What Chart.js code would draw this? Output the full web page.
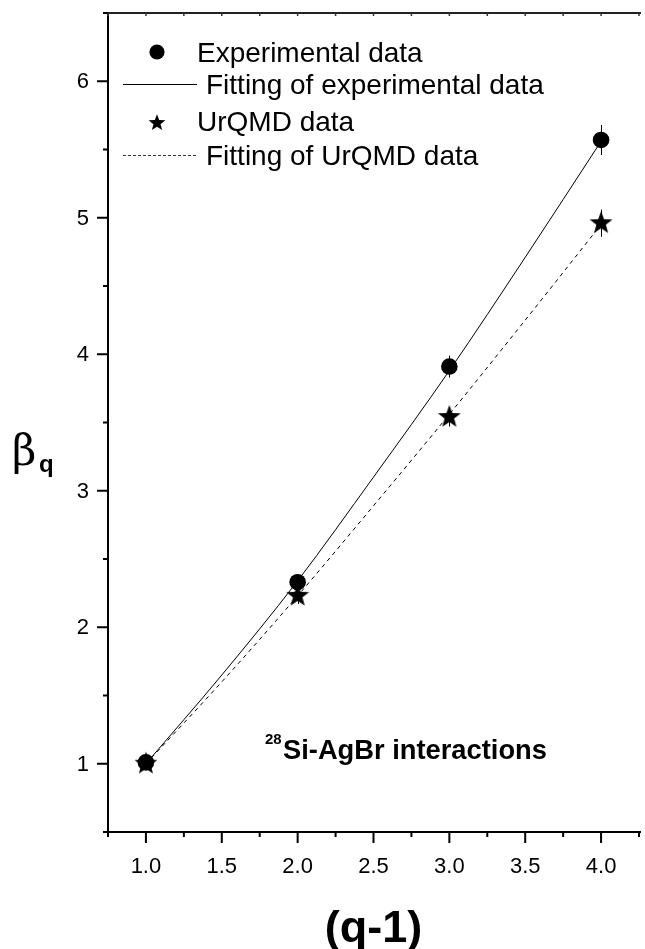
<!DOCTYPE html>
<html>
<head>
<meta charset="utf-8">
<script src="https://cdn.jsdelivr.net/npm/chart.js@4.4.1/dist/chart.umd.min.js"></script>
<style>
  html, body { margin: 0; padding: 0; background: #fff; overflow: hidden; }
  #wrap { width: 652px; height: 949px; }
</style>
</head>
<body>
<div id="wrap"><canvas id="c" width="652" height="949"></canvas></div>
<script>
// q-1 values and generalized dimension slopes beta_q
const qMinusOne = [1, 2, 3, 4];
const expBeta = [1.01, 2.33, 3.91, 5.57];
const expErr = [0.04, 0.05, 0.08, 0.11];
const urqmdBeta = [1.00, 2.23, 3.54, 4.96];
const urqmdErr = [0.04, 0.06, 0.07, 0.10];

// fitted curves, sampled along (q-1)
const fitQ = [1, 1.5, 2, 2.5, 3, 3.5, 4];
const expFitBeta = [1.00, 1.65, 2.34, 3.10, 3.88, 4.71, 5.56];
const urqmdFitBeta = [1.00, 1.60, 2.23, 2.89, 3.56, 4.25, 4.95];

// axis ticks
const xTickValues = [1.0, 1.5, 2.0, 2.5, 3.0, 3.5, 4.0];
const xTickLabels = ['1.0', '1.5', '2.0', '2.5', '3.0', '3.5', '4.0'];
const xMinorValues = [0.75, 1.25, 1.75, 2.25, 2.75, 3.25, 3.75, 4.25];
const yTickValues = [1, 2, 3, 4, 5, 6];
const yTickLabels = ['1', '2', '3', '4', '5', '6'];
const yMinorValues = [0.5, 1.5, 2.5, 3.5, 4.5, 5.5, 6.5];

const seriesLabels = ['Experimental data', 'Fitting of experimental data', 'UrQMD data', 'Fitting of UrQMD data'];
const noteText = 'Si-AgBr interactions';
const noteSup = '28';
const xTitle = '(q-1)';

const SANS = '"Liberation Sans", Arial, Helvetica, sans-serif';

function makeStar(R, r) {
  const c = document.createElement('canvas');
  const s = Math.ceil(2 * R) + 2;
  c.width = s; c.height = s;
  const g = c.getContext('2d');
  g.translate(s / 2, s / 2);
  g.beginPath();
  for (let i = 0; i < 10; i++) {
    const rad = i % 2 ? r : R;
    const a = -Math.PI / 2 + i * Math.PI / 5;
    g.lineTo(rad * Math.cos(a), rad * Math.sin(a));
  }
  g.closePath();
  g.fillStyle = '#000';
  g.fill();
  return c;
}
const bigStar = makeStar(12, 5);
const smallStar = makeStar(8.8, 3.7);

const pts = (xs, ys) => xs.map((x, i) => ({ x: x, y: ys[i] }));

const errorBars = {
  id: 'errorBars',
  beforeDatasetsDraw(chart) {
    const ctx = chart.ctx, xs = chart.scales.x, ys = chart.scales.y;
    ctx.save();
    ctx.strokeStyle = '#000';
    ctx.lineWidth = 1;
    [[expBeta, expErr], [urqmdBeta, urqmdErr]].forEach(([vals, errs]) => {
      qMinusOne.forEach((q, i) => {
        const px = Math.round(xs.getPixelForValue(q)) + 0.5;
        ctx.beginPath();
        ctx.moveTo(px, ys.getPixelForValue(vals[i] + errs[i]));
        ctx.lineTo(px, ys.getPixelForValue(vals[i] - errs[i]));
        ctx.stroke();
      });
    });
    ctx.restore();
  }
};

const frame = {
  id: 'frame',
  afterDraw(chart) {
    const ctx = chart.ctx, xs = chart.scales.x, ys = chart.scales.y;
    const a = chart.chartArea;
    ctx.save();
    ctx.strokeStyle = '#000';
    ctx.lineWidth = 2;
    ctx.lineCap = 'butt';
    // left axis, bottom axis, top border
    ctx.beginPath();
    ctx.moveTo(a.left, a.top - 1); ctx.lineTo(a.left, a.bottom + 1);
    ctx.moveTo(a.left - 1, a.bottom); ctx.lineTo(a.right + 2, a.bottom);
    ctx.stroke();
    ctx.strokeStyle = '#222';
    ctx.beginPath();
    ctx.moveTo(a.left - 1, a.top); ctx.lineTo(a.right + 2, a.top);
    ctx.stroke();

    // y ticks
    ctx.strokeStyle = '#000';
    ctx.beginPath();
    yTickValues.forEach(v => { const y = ys.getPixelForValue(v); ctx.moveTo(a.left, y); ctx.lineTo(a.left - 11, y); });
    yMinorValues.forEach(v => { const y = ys.getPixelForValue(v); ctx.moveTo(a.left, y); ctx.lineTo(a.left - 5, y); });
    // x ticks
    xTickValues.forEach(v => { const x = xs.getPixelForValue(v); ctx.moveTo(x, a.bottom); ctx.lineTo(x, a.bottom + 11); });
    xMinorValues.forEach(v => { const x = xs.getPixelForValue(v); ctx.moveTo(x, a.bottom); ctx.lineTo(x, a.bottom + 5); });
    ctx.stroke();
    // small inward ticks on the top border
    ctx.lineWidth = 1.5;
    ctx.strokeStyle = '#333';
    ctx.beginPath();
    xTickValues.concat(xMinorValues).forEach(v => { const x = xs.getPixelForValue(v); ctx.moveTo(x, a.top); ctx.lineTo(x, a.top + 3); });
    ctx.stroke();

    // tick labels
    ctx.fillStyle = '#000';
    ctx.font = '22px ' + SANS;
    ctx.textAlign = 'right';
    ctx.textBaseline = 'middle';
    yTickValues.forEach((v, i) => ctx.fillText(yTickLabels[i], a.left - 19, ys.getPixelForValue(v) + 1));
    ctx.textAlign = 'center';
    xTickValues.forEach((v, i) => ctx.fillText(xTickLabels[i], xs.getPixelForValue(v), a.bottom + 35));

    // axis titles
    ctx.font = 'bold 45px ' + SANS;
    ctx.textBaseline = 'middle';
    ctx.fillText(xTitle, (a.left + a.right) / 2, a.bottom + 98);
    ctx.textAlign = 'left';
    ctx.textBaseline = 'alphabetic';
    ctx.font = '42px "DejaVu Serif", "Liberation Serif", serif';
    ctx.fillText('\u03B2', 12, 465);
    ctx.font = 'bold 24px ' + SANS;
    ctx.fillText('q', 39, 472);

    // in-plot note
    ctx.font = 'bold 15px ' + SANS;
    ctx.fillText(noteSup, 265, 744);
    ctx.font = 'bold 27.3px ' + SANS;
    ctx.fillText(noteText, 283, 759);

    // legend
    ctx.font = '28px ' + SANS;
    ctx.fillStyle = '#000';
    ctx.beginPath(); ctx.arc(157, 52, 7.6, 0, Math.PI * 2); ctx.fill();
    ctx.fillText(seriesLabels[0], 197, 62);
    ctx.lineWidth = 1;
    ctx.strokeStyle = '#000';
    ctx.beginPath(); ctx.moveTo(123, 84.5); ctx.lineTo(197, 84.5); ctx.stroke();
    ctx.fillText(seriesLabels[1], 206, 94);
    ctx.drawImage(smallStar, 157 - smallStar.width / 2, 123 - smallStar.height / 2);
    ctx.fillText(seriesLabels[2], 197, 131);
    ctx.setLineDash([3, 2]);
    ctx.strokeStyle = '#333';
    ctx.beginPath(); ctx.moveTo(123, 155.5); ctx.lineTo(197, 155.5); ctx.stroke();
    ctx.setLineDash([]);
    ctx.fillText(seriesLabels[3], 206, 165);
    ctx.restore();
  }
};

new Chart(document.getElementById('c'), {
  type: 'scatter',
  data: {
    datasets: [
      {
        label: seriesLabels[0],
        data: pts(qMinusOne, expBeta),
        pointStyle: 'circle',
        pointRadius: 8.3,
        backgroundColor: '#000',
        borderColor: '#000',
        borderWidth: 0,
        showLine: false,
        order: 0
      },
      {
        label: seriesLabels[2],
        data: pts(qMinusOne, urqmdBeta),
        pointStyle: bigStar,
        pointRadius: 12,
        backgroundColor: '#000',
        borderColor: '#000',
        showLine: false,
        order: 1
      },
      {
        label: seriesLabels[1],
        data: pts(fitQ, expFitBeta),
        showLine: true,
        borderColor: '#000',
        borderWidth: 1,
        pointRadius: 0,
        cubicInterpolationMode: 'monotone',
        order: 2
      },
      {
        label: seriesLabels[3],
        data: pts(fitQ, urqmdFitBeta),
        showLine: true,
        borderColor: '#000',
        borderWidth: 1,
        borderDash: [4, 4],
        pointRadius: 0,
        cubicInterpolationMode: 'monotone',
        order: 3
      }
    ]
  },
  options: {
    responsive: false,
    devicePixelRatio: 1,
    animation: false,
    layout: { padding: { left: 108, top: 10, right: 2, bottom: 117 } },
    plugins: { legend: { display: false }, tooltip: { enabled: false } },
    scales: {
      x: { type: 'linear', min: 0.75, max: 4.25, display: false },
      y: { type: 'linear', min: 0.5, max: 6.5, display: false }
    }
  },
  plugins: [errorBars, frame]
});
</script>
</body>
</html>
